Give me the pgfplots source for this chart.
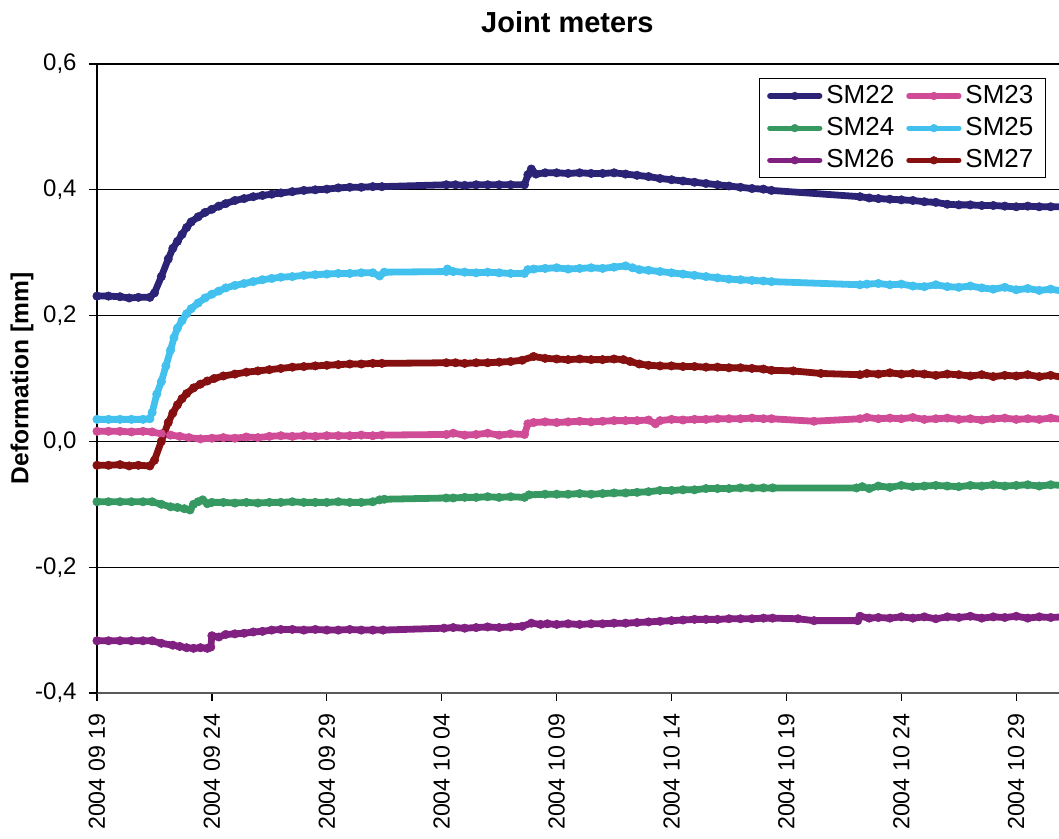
\documentclass[border=0pt]{standalone}
\usepackage{fontspec}
\setmainfont{Liberation Sans}
\usepackage{pgfplots}
\pgfplotsset{compat=1.18}
\definecolor{cSMa}{RGB}{43,35,117}
\definecolor{cSMb}{RGB}{208,76,150}
\definecolor{cSMc}{RGB}{54,153,98}
\definecolor{cSMd}{RGB}{66,192,238}
\definecolor{cSMe}{RGB}{128,32,128}
\definecolor{cSMf}{RGB}{134,16,16}
\newcommand{\dt}[3]{#1\hspace{3.3pt}#2\hspace{3.3pt}#3}
\begin{document}
\begin{tikzpicture}
\begin{axis}[
  scale only axis,
  width=481pt, height=314.5pt,
  xmin=0, xmax=41.86, ymin=-0.4, ymax=0.6,
  axis x line=bottom, axis y line=left,
  axis line style={-, black, line width=0.8pt},
  x axis line style={black!65, line width=1.1pt},
  xtick={0,5,10,15,20,25,30,35,40},
  xticklabels={\dt{2004}{09}{19},\dt{2004}{09}{24},\dt{2004}{09}{29},\dt{2004}{10}{04},\dt{2004}{10}{09},\dt{2004}{10}{14},\dt{2004}{10}{19},\dt{2004}{10}{24},\dt{2004}{10}{29}},
  ytick={-0.4,-0.2,0,0.2,0.4,0.6},
  yticklabels={{-0,4},{-0,2},{0,0},{0,2},{0,4},{0,6}},
  tick align=outside, major tick length=4pt,
  tick style={black, line width=0.6pt},
  ymajorgrids, major grid style={black, line width=0.6pt},
  xticklabel style={yshift=-6pt, rotate=90, anchor=east, inner sep=0pt, font=\fontsize{11.6}{14}\selectfont},
  yticklabel style={xshift=-6pt, anchor=east, inner sep=0pt, font=\fontsize{12}{14}\selectfont},
  ylabel={Deformation [mm]},
  ylabel style={at={(rel axis cs:0,0.5)}, anchor=center, yshift=37.5pt, font=\fontsize{12.3}{14}\selectfont\bfseries},
  title={Joint meters},
  title style={at={(0.489,1)}, anchor=center, yshift=15pt, font=\fontsize{14.5}{17}\selectfont\bfseries},
  every axis plot/.append style={line width=3.4pt, line join=round, line cap=round, mark=*, mark size=2.1pt, mark options={solid, line width=0.3pt}},
  legend columns=2,
  legend cell align=left,
  legend image code/.code={\draw[#1, line width=2.6pt, mark size=1.9pt, mark repeat=2, mark phase=2] plot coordinates {(0pt,0pt) (12.5pt,0pt) (25pt,0pt)};},
  legend style={at={(0.9865,0.978)}, anchor=north east, draw=black, line width=0.6pt,
    font=\fontsize{13}{15}\selectfont, inner xsep=4pt, inner ysep=1.5pt, row sep=1.5pt,
    /tikz/every even column/.append style={column sep=4pt}},
]
\coordinate (LL) at (rel axis cs:0,0);
\coordinate (UR) at (rel axis cs:1,1);
% SM22
\addplot[color=cSMa] table {
0 0.231
0.5 0.231
1.0 0.230
1.4 0.228
1.8 0.229
2.3 0.229
2.5 0.236
2.8 0.262
3.1 0.290
3.3 0.307
3.5 0.318
3.7 0.329
3.9 0.340
4.1 0.349
4.4 0.357
4.7 0.364
5.0 0.369
5.3 0.374
5.6 0.378
6.0 0.383
6.4 0.386
6.8 0.389
7.2 0.391
7.6 0.393
8.0 0.395
8.5 0.397
9.0 0.399
9.5 0.400
10.0 0.401
10.5 0.403
11.0 0.404
11.5 0.404
12.0 0.405
12.4 0.405
15.2 0.408
15.6 0.408
16.0 0.407
16.5 0.408
17.0 0.408
17.5 0.408
18.0 0.408
18.6 0.408
18.75 0.424
18.9 0.433
19.1 0.425
19.5 0.427
20.0 0.427
20.5 0.426
21.0 0.427
21.5 0.426
22.0 0.426
22.5 0.427
23.0 0.425
23.5 0.423
24.0 0.421
24.5 0.418
25.0 0.416
25.5 0.414
26.0 0.412
26.5 0.410
27.0 0.408
27.5 0.406
28.0 0.404
28.5 0.402
29.0 0.401
29.35 0.399
33.2 0.389
33.6 0.387
34.0 0.386
34.5 0.385
35.0 0.384
35.5 0.383
36.0 0.381
36.5 0.380
37.0 0.377
37.5 0.376
38.0 0.376
38.5 0.375
39.0 0.375
39.5 0.374
40.0 0.373
40.5 0.374
41.0 0.373
41.5 0.373
42.0 0.373
};
\addlegendentry{SM22}
% SM23
\addplot[color=cSMb] table {
0 0.016
0.5 0.016
1 0.016
1.5 0.015
2 0.016
2.4 0.015
2.8 0.012
3.2 0.010
3.6 0.008
4.0 0.006
4.5 0.004
5.0 0.005
5.5 0.006
6.0 0.005
6.5 0.007
7.0 0.006
7.5 0.008
8.0 0.009
8.5 0.008
9.0 0.009
9.5 0.008
10 0.009
10.5 0.009
11 0.009
11.5 0.010
12 0.009
12.4 0.010
15.2 0.011
15.5 0.013
16 0.010
16.5 0.011
17 0.013
17.5 0.010
18 0.012
18.6 0.011
18.75 0.028
19 0.030
19.5 0.031
20 0.030
20.5 0.031
21 0.032
21.5 0.031
22 0.032
22.5 0.033
23 0.033
23.5 0.033
24 0.034
24.3 0.028
24.5 0.033
25 0.035
25.5 0.034
26 0.035
26.5 0.035
27 0.036
27.5 0.036
28 0.036
28.5 0.037
29 0.036
29.35 0.036
31.2 0.032
33.2 0.036
33.5 0.038
34 0.036
34.5 0.037
35 0.036
35.5 0.038
36 0.035
36.5 0.036
37 0.037
37.5 0.035
38 0.036
38.5 0.034
39 0.036
39.5 0.037
40 0.035
40.5 0.036
41 0.035
41.5 0.037
42 0.035
};
\addlegendentry{SM23}
% SM24
\addplot[color=cSMc] table {
0 -0.096
0.5 -0.096
1 -0.096
1.5 -0.096
2 -0.096
2.4 -0.096
2.8 -0.100
3.2 -0.104
3.5 -0.105
3.8 -0.107
4.05 -0.109
4.2 -0.100
4.4 -0.096
4.6 -0.093
4.8 -0.099
5.0 -0.097
5.5 -0.097
6.0 -0.098
6.5 -0.097
7.0 -0.098
7.5 -0.097
8.0 -0.097
8.5 -0.096
9 -0.097
9.5 -0.097
10 -0.097
10.5 -0.096
11 -0.097
11.5 -0.097
12 -0.096
12.3 -0.093
12.5 -0.092
15.2 -0.090
15.5 -0.090
16 -0.089
16.5 -0.089
17 -0.088
17.5 -0.089
18 -0.088
18.6 -0.089
18.8 -0.085
19.5 -0.084
20 -0.084
20.5 -0.084
21 -0.083
21.5 -0.084
22 -0.083
22.5 -0.082
23 -0.082
23.5 -0.081
24 -0.080
24.5 -0.078
25 -0.078
25.5 -0.077
26 -0.077
26.5 -0.075
27 -0.075
27.5 -0.075
28 -0.074
28.5 -0.074
29 -0.074
29.4 -0.074
33.05 -0.074
33.3 -0.072
33.6 -0.075
34 -0.071
34.5 -0.073
35 -0.070
35.5 -0.072
36 -0.071
36.5 -0.070
37 -0.071
37.5 -0.072
38 -0.070
38.5 -0.071
39 -0.069
39.5 -0.071
40 -0.070
40.5 -0.069
41 -0.071
41.5 -0.069
42 -0.070
};
\addlegendentry{SM24}
% SM25
\addplot[color=cSMd] table {
0 0.035
0.5 0.035
1 0.035
1.5 0.035
2.0 0.035
2.3 0.036
2.4 0.046
2.6 0.075
2.8 0.095
3.0 0.120
3.2 0.145
3.35 0.165
3.5 0.180
3.7 0.192
3.9 0.203
4.1 0.211
4.4 0.220
4.7 0.228
5.0 0.234
5.3 0.239
5.6 0.244
6.0 0.248
6.4 0.251
6.8 0.254
7.2 0.257
7.6 0.259
8.0 0.261
8.5 0.262
9.0 0.264
9.5 0.265
10.0 0.266
10.5 0.267
11.0 0.267
11.5 0.268
12.0 0.268
12.3 0.263
12.5 0.269
15.2 0.270
15.25 0.274
15.5 0.270
16 0.269
16.5 0.268
17 0.269
17.5 0.268
18 0.267
18.6 0.267
18.75 0.273
19.0 0.274
19.5 0.275
20 0.276
20.5 0.274
21 0.275
21.5 0.276
22 0.275
22.5 0.277
23.0 0.279
23.3 0.276
23.6 0.273
24 0.272
24.5 0.270
25 0.268
25.5 0.266
26 0.264
26.5 0.262
27 0.260
27.5 0.258
28 0.257
28.5 0.256
29 0.255
29.35 0.254
33.2 0.249
33.5 0.250
34 0.251
34.5 0.249
35 0.250
35.5 0.247
36 0.246
36.5 0.249
37 0.246
37.5 0.245
38 0.247
38.5 0.244
39 0.242
39.5 0.245
40 0.241
40.5 0.243
41 0.240
41.5 0.242
42 0.239
};
\addlegendentry{SM25}
% SM26
\addplot[color=cSMe] table {
0 -0.317
0.5 -0.317
1 -0.317
1.5 -0.317
2 -0.317
2.4 -0.317
2.8 -0.321
3.3 -0.324
3.6 -0.326
3.9 -0.328
4.2 -0.329
4.5 -0.328
4.8 -0.329
4.95 -0.327
5.0 -0.309
5.3 -0.311
5.6 -0.307
6 -0.306
6.4 -0.305
6.8 -0.303
7.2 -0.302
7.6 -0.300
8 -0.299
8.5 -0.299
9 -0.300
9.5 -0.299
10 -0.300
10.5 -0.300
11 -0.299
11.5 -0.300
12 -0.300
12.45 -0.300
15.1 -0.297
15.5 -0.296
16 -0.297
16.5 -0.296
17 -0.295
17.5 -0.296
18 -0.295
18.5 -0.294
18.9 -0.289
19.3 -0.291
19.6 -0.290
20 -0.291
20.5 -0.290
21 -0.291
21.5 -0.290
22 -0.290
22.5 -0.289
23 -0.289
23.5 -0.288
24 -0.287
24.5 -0.286
25 -0.285
25.5 -0.284
26 -0.283
26.5 -0.283
27 -0.283
27.5 -0.282
28 -0.282
28.5 -0.282
29 -0.281
29.4 -0.281
30.5 -0.282
31.2 -0.285
33.1 -0.285
33.2 -0.278
33.6 -0.281
34 -0.280
34.5 -0.281
35 -0.279
35.5 -0.281
36 -0.279
36.5 -0.282
37 -0.279
37.5 -0.280
38 -0.278
38.5 -0.281
39 -0.279
39.5 -0.280
40 -0.278
40.5 -0.281
41 -0.279
41.5 -0.280
42 -0.279
};
\addlegendentry{SM26}
% SM27
\addplot[color=cSMf] table {
0 -0.038
0.5 -0.038
1 -0.037
1.4 -0.039
1.8 -0.038
2.3 -0.039
2.5 -0.030
2.8 0.000
3.1 0.030
3.3 0.045
3.5 0.058
3.7 0.068
3.9 0.076
4.2 0.085
4.5 0.091
4.8 0.096
5.1 0.100
5.5 0.104
6.0 0.107
6.5 0.110
7.0 0.112
7.5 0.114
8.0 0.116
8.5 0.118
9.0 0.119
9.5 0.120
10 0.121
10.5 0.122
11 0.123
11.5 0.123
12 0.124
12.4 0.124
15.2 0.125
15.6 0.125
16 0.124
16.5 0.125
17 0.125
17.5 0.126
18 0.127
18.5 0.129
19 0.135
19.5 0.132
20 0.131
20.5 0.130
21 0.131
21.5 0.130
22 0.130
22.5 0.131
22.9 0.130
23.2 0.127
23.6 0.123
24 0.121
24.5 0.120
25 0.120
25.5 0.119
26 0.119
26.5 0.118
27 0.118
27.5 0.117
28 0.117
28.5 0.116
29 0.115
29.35 0.113
30.3 0.112
31.5 0.108
33.2 0.106
33.5 0.108
34 0.107
34.5 0.109
35 0.107
35.5 0.108
36 0.107
36.5 0.105
37 0.107
37.5 0.106
38 0.104
38.5 0.106
39 0.103
39.5 0.105
40 0.104
40.5 0.106
41 0.103
41.5 0.105
42 0.102
};
\addlegendentry{SM27}
\end{axis}
\pgfresetboundingbox
\path ([shift={(-48.5pt,-73pt)}]LL) rectangle ([shift={(0pt,32pt)}]UR);
\end{tikzpicture}
\end{document}
